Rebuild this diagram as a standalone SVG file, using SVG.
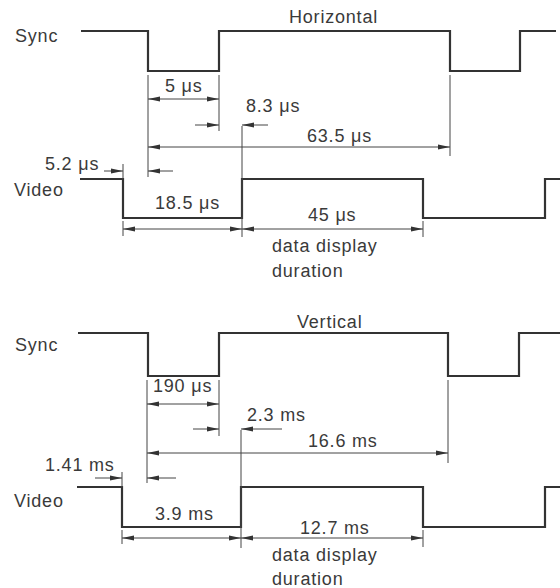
<svg xmlns="http://www.w3.org/2000/svg" width="560" height="588" viewBox="0 0 560 588">
<style>
  text { font-family: "Liberation Sans", Arial, sans-serif; font-size: 18px; fill: #3a3a3a; letter-spacing: 0.8px; }
  .sig { fill: none; stroke: #333; stroke-width: 2.2; stroke-linejoin: miter; }
  .ext { fill: none; stroke: #444; stroke-width: 1; }
  .dim { fill: none; stroke: #444; stroke-width: 1; marker-end: url(#ah); }
  .dim2 { fill: none; stroke: #444; stroke-width: 1; marker-start: url(#ah); marker-end: url(#ah); }
</style>
<defs>
  <marker id="ah" viewBox="0 0 12 6" refX="12" refY="3" markerWidth="12" markerHeight="6" markerUnits="userSpaceOnUse" orient="auto-start-reverse">
    <path d="M0,0.6 L12,3 L0,5.4 z" fill="#333"/>
  </marker>
</defs>
<rect width="560" height="588" fill="#fff"/>

<g id="horizontal">
  <text x="289" y="23">Horizontal</text>
  <g id="h-sync">
    <text x="15" y="42">Sync</text>
    <path class="sig" d="M81,31 H148 V71 H219 V31 H450 V71 H520 V31 H556"/>
  </g>
  <g id="h-video">
    <text x="14" y="196">Video</text>
    <path class="sig" d="M80,179 H123 V218 H242 V179 H423 V218 H545 V179 H560"/>
  </g>
  <g id="h-dims">
    <path class="ext" d="M148,75 V177 M219,75 V131 M242,126 V237 M450,75 V156 M123,164 V179 M123,221 V236 M423,221 V237"/>
    <path class="dim2" d="M148,99 H219"/>
    <path class="dim" d="M195,125 H219"/>
    <path class="dim" d="M268,125 H242"/>
    <path class="dim2" d="M148,147 H450"/>
    <path class="dim" d="M104,171 H123"/>
    <path class="dim" d="M173,171 H148"/>
    <path class="dim2" d="M123,229 H242"/>
    <path class="dim2" d="M242,229 H423"/>
    <text x="165" y="92">5 μs</text>
    <text x="246" y="112">8.3 μs</text>
    <text x="307" y="142">63.5 μs</text>
    <text x="45" y="170">5.2 μs</text>
    <text x="155" y="209">18.5 μs</text>
    <text x="308" y="221">45 μs</text>
    <text x="272" y="252">data display</text>
    <text x="272" y="277">duration</text>
  </g>
</g>

<g id="vertical">
  <text x="297" y="328">Vertical</text>
  <g id="v-sync">
    <text x="15" y="351">Sync</text>
    <path class="sig" d="M78,333 H148 V376 H219 V333 H448 V376 H519 V333 H560"/>
  </g>
  <g id="v-video">
    <text x="14" y="507">Video</text>
    <path class="sig" d="M77,487 H122 V527 H241 V487 H423 V527 H545 V487 H560"/>
  </g>
  <g id="v-dims">
    <path class="ext" d="M147,380 V483 M219,380 V436 M241,430 V548 M448,380 V463 M122,472 V487 M122,530 V544 M423,530 V547"/>
    <path class="dim2" d="M147,404 H219"/>
    <path class="dim" d="M193,429 H219"/>
    <path class="dim" d="M282,429 H241"/>
    <path class="dim2" d="M147,453 H448"/>
    <path class="dim" d="M95,478 H122"/>
    <path class="dim" d="M176,478 H147"/>
    <path class="dim2" d="M122,538 H241"/>
    <path class="dim2" d="M241,538 H423"/>
    <text x="153" y="392">190 μs</text>
    <text x="247" y="421">2.3 ms</text>
    <text x="308" y="447">16.6 ms</text>
    <text x="45" y="471">1.41 ms</text>
    <text x="155" y="520">3.9 ms</text>
    <text x="300" y="534">12.7 ms</text>
    <text x="272" y="561">data display</text>
    <text x="272" y="585">duration</text>
  </g>
</g>
</svg>
